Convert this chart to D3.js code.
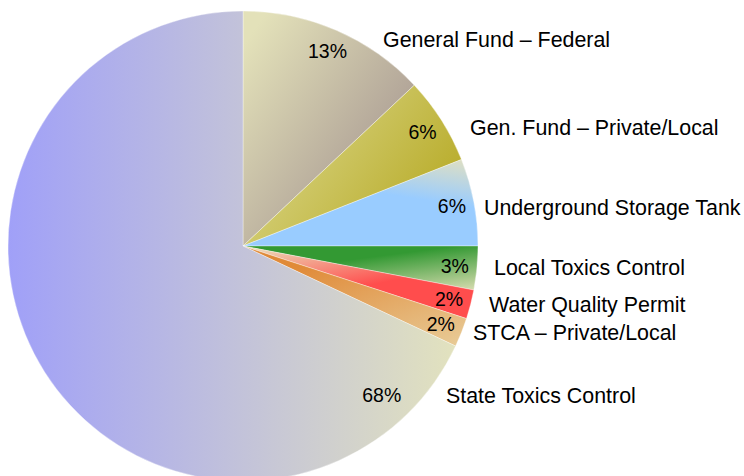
<!DOCTYPE html>
<html>
<head>
<meta charset="utf-8">
<script src="https://cdn.jsdelivr.net/npm/d3@7"></script>
<style>
  html, body { margin: 0; padding: 0; background: #ffffff; }
  svg { display: block; }
  text { font-family: "Liberation Sans", Arial, sans-serif; fill: #000; }
</style>
</head>
<body>
<svg id="chart" width="744" height="476"></svg>
<script>
// Funding sources, clockwise from 12 o'clock
const categories = [
  "General Fund \u2013 Federal",
  "Gen. Fund \u2013 Private/Local",
  "Underground Storage Tank",
  "Local Toxics Control",
  "Water Quality Permit",
  "STCA \u2013 Private/Local",
  "State Toxics Control"
];
const shares = [13, 6, 6, 3, 2, 2, 68];

// Gradient fill per slice: [start colour, end colour]
const sliceColors = [
  ["#e3e1b9", "#9c8a8a"],
  ["#dcd98e", "#b9ad2c"],
  ["#99ccff", "#e2e0c0"],
  ["#339933", "#d8dcb0"],
  ["#ebdcb8", "#ff4d4d"],
  ["#e08a38", "#e8cc98"],
  ["#a0a0f8", "#e2e2be"]
];

const svg = d3.select("#chart");
const cx = 243, cy = 246, R = 235;

// Gradient directions (bounding-box units) and where the ramp sits
const gradGeom = [
  {x1: 0.05, y1: 0.0, x2: 1.0, y2: 0.9, s0: 0.05, s1: 1.0},
  {x1: 0.0, y1: 0.0, x2: 1.0, y2: 0.55, s0: 0.1, s1: 1.0},
  {x1: 0.75, y1: 0.6, x2: 1.0, y2: 0.0, s0: 0.2, s1: 1.0},
  {x1: 0.45, y1: 0.2, x2: 1.0, y2: 1.0, s0: 0.1, s1: 1.0},
  {x1: 0.0, y1: 0.0, x2: 0.45, y2: 0.75, s0: 0.05, s1: 0.85},
  {x1: 0.2, y1: 0.0, x2: 1.0, y2: 1.0, s0: 0.15, s1: 1.0},
  {x1: 0.0, y1: 0.0, x2: 1.0, y2: 0.0, s0: 0.0, s1: 1.0}
];

const defs = svg.append("defs");
sliceColors.forEach((c, i) => {
  const g = gradGeom[i];
  const lg = defs.append("linearGradient")
    .attr("id", "grad" + i)
    .attr("x1", g.x1).attr("y1", g.y1)
    .attr("x2", g.x2).attr("y2", g.y2);
  lg.append("stop").attr("offset", g.s0).attr("stop-color", c[0]);
  lg.append("stop").attr("offset", g.s1).attr("stop-color", c[1]);
});

const data = categories.map((name, i) => ({name, value: shares[i], i}));

const pie = d3.pie().value(d => d.value).sort(null);
const arcs = pie(data);
const arc = d3.arc().innerRadius(0).outerRadius(R);

const g = svg.append("g").attr("transform", `translate(${cx},${cy})`);

g.selectAll("path.slice")
  .data(arcs)
  .join("path")
  .attr("class", "slice")
  .attr("d", arc)
  .attr("fill", d => `url(#grad${d.data.i})`)
  .attr("stroke", "#ffffff")
  .attr("stroke-opacity", 0.6)
  .attr("stroke-width", 0.6);

// Percentage labels inside the slices, near the rim
const pctArc = d3.arc().innerRadius(0.905 * R).outerRadius(0.905 * R);
g.selectAll("text.pct")
  .data(arcs)
  .join("text")
  .attr("class", "pct")
  .attr("text-anchor", "middle")
  .attr("font-size", 19.5)
  .attr("transform", d => {
    let p;
    if (d.data.value > 50) {
      // large slice: label sits in its lower-right portion
      const a = d.startAngle + 0.38;
      p = [0.865 * R * Math.sin(a), -0.865 * R * Math.cos(a)];
    } else {
      p = pctArc.centroid(d);
    }
    return `translate(${p[0]},${p[1] + 7})`;
  })
  .text(d => d.data.value + "%");

// Category names to the right of the pie (left x, baseline y)
const nameAnchors = [
  [383, 47], [470, 135], [484, 215], [494, 275], [489, 312], [473, 340], [446, 403]
];
svg.selectAll("text.name")
  .data(data)
  .join("text")
  .attr("class", "name")
  .attr("font-size", 21.4)
  .attr("x", d => nameAnchors[d.i][0])
  .attr("y", d => nameAnchors[d.i][1])
  .text(d => d.name);
</script>
</body>
</html>
